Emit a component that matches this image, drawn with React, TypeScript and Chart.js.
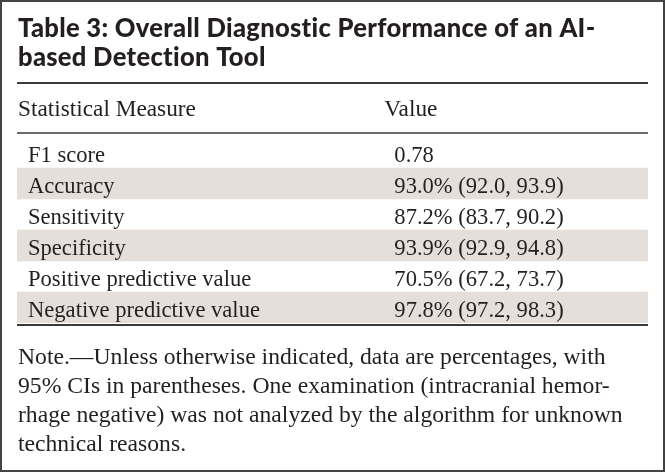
import React, { useEffect, useRef } from "react";
import { Chart, registerables } from "chart.js";

Chart.register(...registerables);

const TITLE_LINES = [
  "Table 3: Overall Diagnostic Performance of an AI-",
  "based Detection Tool",
];
const HEADERS = ["Statistical Measure", "Value"];
const MEASURES = [
  "F1 score",
  "Accuracy",
  "Sensitivity",
  "Specificity",
  "Positive predictive value",
  "Negative predictive value",
];
const VALUES = [
  "0.78",
  "93.0% (92.0, 93.9)",
  "87.2% (83.7, 90.2)",
  "93.9% (92.9, 94.8)",
  "70.5% (67.2, 73.7)",
  "97.8% (97.2, 98.3)",
];
const SHADED = [false, true, false, true, false, true];
const NOTE_LINES = [
  "Note.\u2014Unless otherwise indicated, data are percentages, with",
  "95% CIs in parentheses. One examination (intracranial hemor-",
  "rhage negative) was not analyzed by the algorithm for unknown",
  "technical reasons.",
];

const TEXT = "#231f20";
const SHADE = "#e5dfdc";
const RULE = "#3a3a3a";
const SERIF = '"Liberation Serif", "DejaVu Serif", serif';
const SANS = 'Lato, "Open Sans", sans-serif';

function fit(ctx: CanvasRenderingContext2D, text: string, target: number, family: string, weight: string) {
  ctx.font = `${weight} 100px ${family}`;
  const w = ctx.measureText(text).width;
  return (100 * target) / w;
}

const tablePlugin = {
  id: "tableText",
  afterDraw(chart: any) {
    const ctx: any = chart.ctx;
    const area = chart.chartArea;
    const xs = chart.scales.x;
    const ys = chart.scales.y;
    ctx.save();
    ctx.fillStyle = TEXT;
    ctx.textBaseline = "alphabetic";
    ctx.textAlign = "left";

    // outer frame
    ctx.strokeStyle = "#444";
    ctx.lineWidth = 2;
    ctx.strokeRect(1, 1, chart.width - 3, chart.height - 4);

    // title
    ctx.letterSpacing = "0.3px";
    const tSize = fit(ctx, TITLE_LINES[0], 567, SANS, "900");
    ctx.font = `900 ${tSize}px ${SANS}`;
    ctx.fillText(TITLE_LINES[0], 18, 37);
    ctx.fillText(TITLE_LINES[1], 18, 66);
    ctx.letterSpacing = "0px";

    const left = xs.getPixelForValue(0);
    const right = xs.getPixelForValue(1);

    // rules
    ctx.strokeStyle = RULE;
    ctx.lineWidth = 2;
    ctx.beginPath();
    ctx.moveTo(left, 83);
    ctx.lineTo(right, 83);
    ctx.stroke();
    ctx.lineWidth = 1.5;
    ctx.beginPath();
    ctx.moveTo(left, area.top - 4);
    ctx.lineTo(right, area.top - 4);
    ctx.stroke();
    ctx.lineWidth = 2;
    ctx.beginPath();
    ctx.moveTo(left, area.bottom + 2);
    ctx.lineTo(right, area.bottom + 2);
    ctx.stroke();

    // header
    const hSize = fit(ctx, HEADERS[0], 178, SERIF, "400");
    ctx.font = `400 ${hSize}px ${SERIF}`;
    const valX = xs.getPixelForValue(0.598);
    ctx.fillText(HEADERS[0], left + 1, 116);
    ctx.fillText(HEADERS[1], valX - 10, 116);

    // rows
    const bSize = fit(ctx, MEASURES[5], 232, SERIF, "400");
    ctx.font = `400 ${bSize}px ${SERIF}`;
    MEASURES.forEach((m, i) => {
      const y = ys.getPixelForValue(i) + 9;
      ctx.fillText(m, left + 11, y);
      ctx.fillText(VALUES[i], valX, y);
    });

    // note
    const nSize = fit(ctx, NOTE_LINES[2], 605, SERIF, "400");
    ctx.font = `400 ${nSize}px ${SERIF}`;
    NOTE_LINES.forEach((l, i) => ctx.fillText(l, left + 1, 364 + i * 29));
    ctx.restore();
  },
};

export default function App() {
  const ref = useRef<HTMLCanvasElement>(null);
  useEffect(() => {
    if (!ref.current) return;
    const chart = new Chart(ref.current, {
      type: "bar",
      data: {
        labels: MEASURES,
        datasets: [
          {
            data: SHADED.map((s) => (s ? [0, 1] : null)) as any,
            backgroundColor: SHADE,
            borderWidth: 0,
            barPercentage: 1,
            categoryPercentage: 1,
          },
        ],
      },
      options: {
        indexAxis: "y",
        responsive: false,
        animation: false,
        events: [],
        devicePixelRatio: 1,
        layout: { padding: { top: 137, bottom: 474 - 323, left: 17, right: 18 } },
        scales: {
          x: { display: false, min: 0, max: 1 },
          y: { display: false },
        },
        plugins: { legend: { display: false }, tooltip: { enabled: false }, title: { display: false } },
      },
      plugins: [tablePlugin],
    });
    return () => chart.destroy();
  }, []);
  return (
    <div style={{ position: "fixed", left: 0, top: 0, width: 666, height: 474, background: "#fff" }}>
      <canvas ref={ref} width={666} height={474} style={{ display: "block" }} />
    </div>
  );
}
